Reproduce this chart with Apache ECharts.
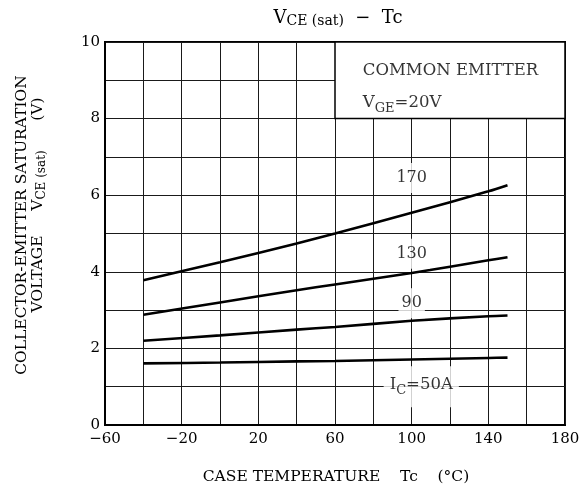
<!DOCTYPE html>
<html>
<head>
<meta charset="utf-8">
<script src="https://cdn.jsdelivr.net/npm/echarts@6/dist/echarts.min.js"></script>
<style>
  html, body { margin: 0; padding: 0; background: #fff; }
  #chart { width: 587px; height: 490px; }
</style>
</head>
<body>
<div id="chart"></div>
<script>
// 读图得到的数据 (Tc -> VCE(sat))
var tcPts = [-40, 0, 40, 60, 100, 140, 150];
var vce170 = [3.78, 4.25, 4.74, 5.00, 5.54, 6.10, 6.26];
var vce130 = [2.88, 3.20, 3.52, 3.67, 3.97, 4.30, 4.38];
var vce90 = [2.20, 2.34, 2.49, 2.56, 2.72, 2.84, 2.86];
var vce50 = [1.61, 1.63, 1.66, 1.67, 1.71, 1.75, 1.76];
var xTicks = [-60, -20, 20, 60, 100, 140, 180];
var yTicks = [0, 2, 4, 6, 8, 10];
// 曲线标注
var curveLabels = [[100, 6.45, '170'], [100, 4.47, '130'], [100, 3.18, '90']];

var FONT = "'DejaVu Serif', 'Liberation Serif', serif";

function pairs(xs, ys) {
  return xs.map(function (x, i) { return [x, ys[i]]; });
}
function curve(name, ys) {
  return {
    name: name,
    type: 'line',
    data: pairs(tcPts, ys),
    smooth: 0.3,
    symbol: 'none',
    lineStyle: { color: '#000', width: 2.6 },
    z: 3
  };
}

var myChart = echarts.init(document.getElementById('chart'));
var option = {
  animation: false,
  textStyle: { fontFamily: FONT },
  title: {
    text: '{v|V}{s|CE (sat)}{v|  −  Tc}',
    left: 333,
    top: 4,
    textAlign: 'center',
    textStyle: {
      fontWeight: 'normal',
      rich: {
        v: { fontFamily: FONT, fontSize: 18, fontWeight: 'normal', color: '#000', verticalAlign: 'bottom', padding: [0, 0, 1, 0] },
        s: { fontFamily: FONT, fontSize: 14, fontWeight: 'normal', color: '#000', verticalAlign: 'bottom' }
      }
    }
  },
  grid: {
    left: 105, right: 22, top: 42, bottom: 65,
    show: true, borderColor: '#000', borderWidth: 2
  },
  xAxis: {
    type: 'value',
    min: -60, max: 180, interval: 20,
    axisLine: { show: true, onZero: false, lineStyle: { color: '#000', width: 2 } },
    axisTick: { show: false },
    splitLine: { show: true, lineStyle: { color: '#1a1a1a', width: 1 } },
    axisLabel: {
      margin: 7,
      fontFamily: FONT, fontSize: 15, color: '#000',
      formatter: function (v) {
        return xTicks.indexOf(v) >= 0 ? String(v).replace('-', '−') : '';
      }
    }
  },
  yAxis: {
    type: 'value',
    min: 0, max: 10, interval: 1,
    axisLine: { show: true, onZero: false, lineStyle: { color: '#000', width: 2 } },
    axisTick: { show: false },
    splitLine: { show: true, lineStyle: { color: '#1a1a1a', width: 1 } },
    axisLabel: {
      margin: 5,
      fontFamily: FONT, fontSize: 15, color: '#000',
      formatter: function (v) { return yTicks.indexOf(v) >= 0 ? String(v) : ''; }
    }
  },
  graphic: [
    {
      type: 'text', x: 22, y: 225, rotation: Math.PI / 2,
      style: {
        text: 'COLLECTOR-EMITTER SATURATION',
        fontFamily: FONT, fontSize: 15.5, fill: '#000',
        textAlign: 'center', textVerticalAlign: 'middle'
      }
    },
    {
      type: 'text', x: 39, y: 205, rotation: Math.PI / 2,
      style: {
        text: '{a|VOLTAGE     V}{b|CE (sat)}{a|      (V)}',
        fontFamily: FONT, fontSize: 15.5, fill: '#000',
        textAlign: 'center', textVerticalAlign: 'middle',
        rich: {
          a: { fontFamily: FONT, fontSize: 15.5, fill: '#000', verticalAlign: 'bottom', padding: [0, 0, 2, 0] },
          b: { fontFamily: FONT, fontSize: 12, fill: '#000', verticalAlign: 'bottom' }
        }
      }
    },
    {
      type: 'text', x: 336, y: 477,
      style: {
        text: 'CASE TEMPERATURE    Tc    (°C)',
        fontFamily: FONT, fontSize: 15.5, fill: '#000',
        textAlign: 'center', textVerticalAlign: 'middle'
      }
    }
  ],
  series: [
    {
      name: 'box',
      type: 'line',
      data: [],
      markArea: {
        silent: true,
        itemStyle: { color: '#fff', borderColor: '#000', borderWidth: 1.5 },
        label: { show: false },
        data: [[{ coord: [60, 10] }, { coord: [180, 8] }]]
      },
      z: 2
    },
    curve('170', vce170),
    curve('130', vce130),
    curve('90', vce90),
    curve('50', vce50),
    {
      name: 'labels',
      type: 'scatter',
      symbolSize: 0,
      z: 4,
      data: curveLabels,
      label: {
        show: true,
        position: 'inside',
        formatter: function (p) { return p.value[2]; },
        fontFamily: FONT, fontSize: 16, color: '#000',
        backgroundColor: '#fff',
        padding: [7, 3]
      }
    },
    {
      name: 'notes',
      type: 'scatter',
      symbolSize: 0,
      z: 4,
      data: [
        { value: [105, 1.0], label: {
            formatter: '{a|I}{s|C}{a|=50A}',
            align: 'center', backgroundColor: '#fff', padding: [10, 6]
        } },
        { value: [74.5, 9.2], label: { formatter: '{a|COMMON EMITTER}', align: 'left' } },
        { value: [74.5, 8.37], label: { formatter: '{a|V}{s|GE}{a|=20V}', align: 'left' } }
      ],
      label: {
        show: true,
        position: 'inside',
        rich: {
          a: { fontFamily: FONT, fontSize: 16.5, color: '#000', verticalAlign: 'bottom', padding: [0, 0, 4, 0] },
          s: { fontFamily: FONT, fontSize: 13, color: '#000', verticalAlign: 'bottom' }
        }
      }
    }
  ]
};
myChart.setOption(option);
</script>
</body>
</html>
